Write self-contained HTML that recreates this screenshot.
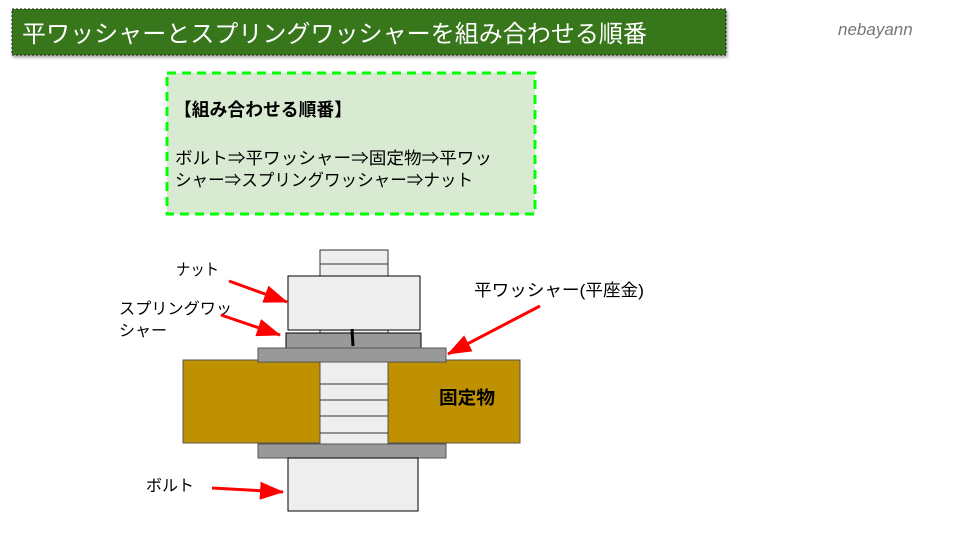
<!DOCTYPE html>
<html><head><meta charset="utf-8"><style>
body{margin:0;width:960px;height:540px;background:#fff;overflow:hidden;font-family:"Liberation Sans","Noto Sans CJK JP",sans-serif;}
</style></head><body>
<svg width="960" height="540" xmlns="http://www.w3.org/2000/svg" font-family="Liberation Sans, Noto Sans CJK JP, sans-serif">
<defs>
<marker id="b" markerWidth="24" markerHeight="18" refX="23" refY="9" orient="auto" markerUnits="userSpaceOnUse"><path d="M0,0 L24,9 L0,18z" fill="#f00"/></marker>
<filter id="s"><feDropShadow dx="1" dy="2" stdDeviation="1.5" flood-opacity="0.4"/></filter>
</defs>
<rect x="12" y="9" width="714" height="46" fill="#38761d" stroke="#222" stroke-dasharray="2,2" filter="url(#s)"/>
<text x="22" y="42" font-size="24" fill="#fff" textLength="625" lengthAdjust="spacingAndGlyphs">平ワッシャーとスプリングワッシャーを組み合わせる順番</text>
<text x="838" y="35" font-size="17" font-style="italic" fill="#777">nebayann</text>
<rect x="167" y="73" width="368" height="141" fill="#d9ead3" stroke="#00ff00" stroke-width="3" stroke-dasharray="9,6"/>
<text x="174" y="116" font-size="18" font-weight="bold" textLength="178" lengthAdjust="spacingAndGlyphs">【組み合わせる順番】</text>
<text x="175" y="164" font-size="17" textLength="317" lengthAdjust="spacingAndGlyphs">ボルト⇒平ワッシャー⇒固定物⇒平ワッ</text>
<text x="175" y="186" font-size="17" textLength="298" lengthAdjust="spacingAndGlyphs">シャー⇒スプリングワッシャー⇒ナット</text>
<g stroke="#333" stroke-width="1">
<rect x="320" y="250" width="68" height="200" fill="#eee"/>
<line x1="320" y1="264" x2="388" y2="264"/>
<rect x="183" y="360" width="137" height="83" fill="#bf9000" stroke="#555"/>
<rect x="388" y="360" width="132" height="83" fill="#bf9000" stroke="#555"/>
<line x1="320" y1="384" x2="388" y2="384"/><line x1="320" y1="400" x2="388" y2="400"/>
<line x1="320" y1="416" x2="388" y2="416"/><line x1="320" y1="433" x2="388" y2="433"/>
<rect x="288" y="276" width="132" height="54" fill="#eee" stroke="#000"/>
<rect x="286" y="333" width="135" height="17" fill="#999" stroke="#000"/>
<rect x="258" y="348" width="188" height="14" fill="#999" stroke="#555"/>
<rect x="258" y="444" width="188" height="14" fill="#999" stroke="#555"/>
<rect x="288" y="458" width="130" height="53" fill="#eee" stroke="#000"/>
</g>
<line x1="352" y1="329" x2="353" y2="346" stroke="#000" stroke-width="3"/>
<text x="439" y="404" font-size="18" font-weight="bold" textLength="56" lengthAdjust="spacingAndGlyphs">固定物</text>
<text x="176" y="275" font-size="16" textLength="43" lengthAdjust="spacingAndGlyphs">ナット</text>
<text x="119" y="314" font-size="16" textLength="113" lengthAdjust="spacingAndGlyphs">スプリングワッ</text>
<text x="119" y="336" font-size="16">シャー</text>
<text x="474" y="296" font-size="17" textLength="170" lengthAdjust="spacingAndGlyphs">平ワッシャー(平座金)</text>
<text x="146" y="491" font-size="16">ボルト</text>
<g stroke="#f00" stroke-width="3" fill="none">
<line x1="229" y1="281" x2="287" y2="302" marker-end="url(#b)"/>
<line x1="221" y1="315" x2="280" y2="335" marker-end="url(#b)"/>
<line x1="540" y1="306" x2="448" y2="354" marker-end="url(#b)"/>
<line x1="212" y1="488" x2="283" y2="492" marker-end="url(#b)"/>
</g>
</svg>
</body></html>
